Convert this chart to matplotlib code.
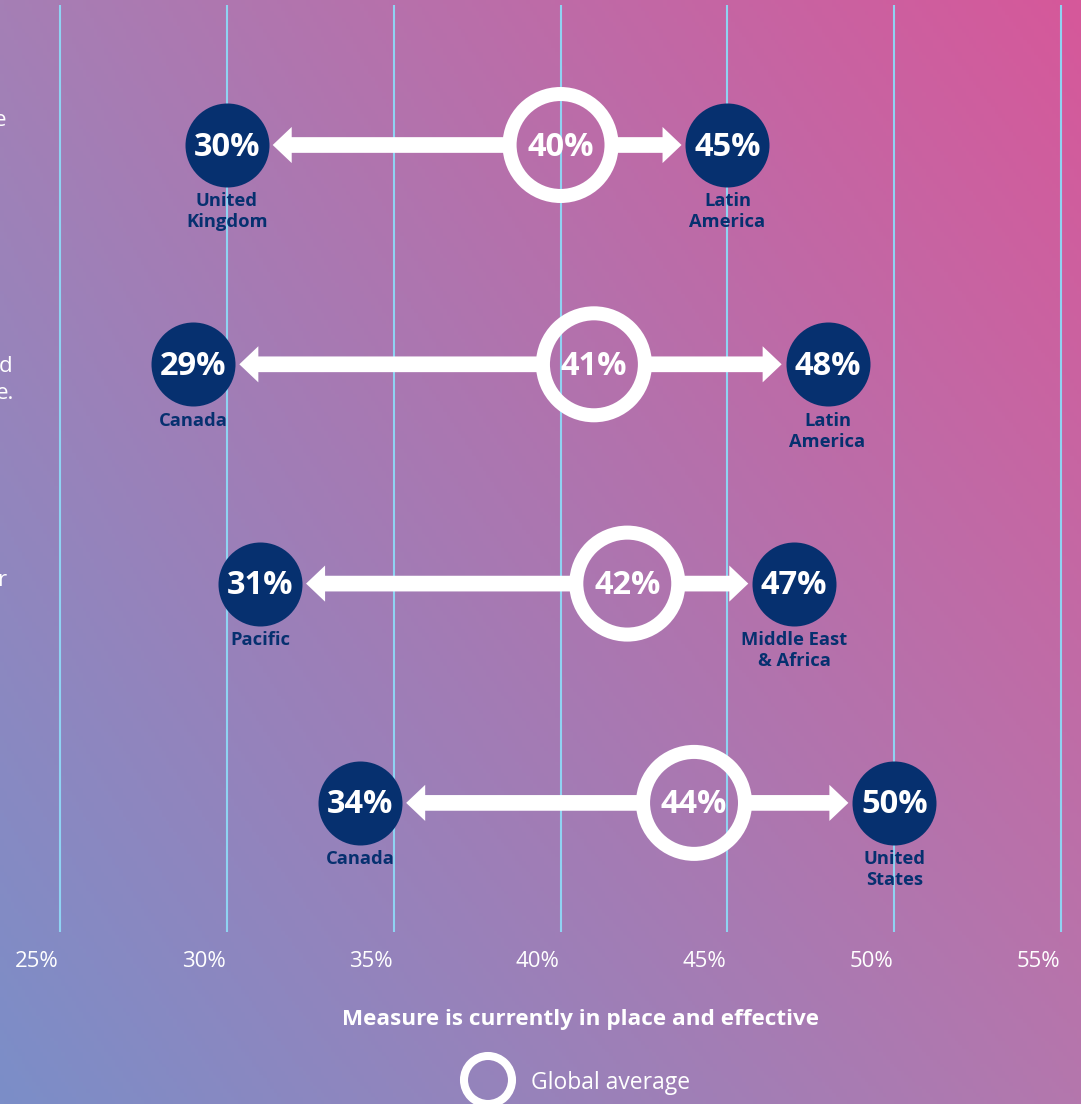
import numpy as np
import matplotlib.pyplot as plt
from matplotlib.patches import FancyArrowPatch
from matplotlib.colors import to_rgb

plt.rcParams['font.family'] = ['Open Sans', 'DejaVu Sans']

# values per row: lowest region, global average, highest region
avg = [40, 41, 42, 44]
low = [30, 29, 31, 34]
high = [45, 48, 47, 50]
low_names = ['United\nKingdom', 'Canada', 'Pacific', 'Canada']
high_names = ['Latin\nAmerica', 'Latin\nAmerica', 'Middle East\n& Africa', 'United\nStates']
ticks = [25, 30, 35, 40, 45, 50, 55]
tick_labels = [f'{t}%' for t in ticks]

navy = '#06306f'
grid_col = '#8fd3f2'

W, H = 1081, 1104
fig = plt.figure(figsize=(W / 100, H / 100), dpi=100)
ax = fig.add_axes([0, 0, 1, 1])
ax.axis('off')

# x scale: 25% sits at 60px, 5 points every ~167px
px_per_pt = 33.37
x0 = 25 - 60 / px_per_pt
ax.set_xlim(x0, x0 + W / px_per_pt)
# y scale: one unit per row, first row at 145px
row_px, row0 = 219.3, 145


def row(ypx):
    return (ypx - row0) / row_px


ax.set_ylim(row(H), row(0))

# diagonal background gradient, bilinear between the four corners
tl, tr = np.array(to_rgb('#a57fb5')), np.array(to_rgb('#d6589a'))
bl, br = np.array(to_rgb('#7b8ec8')), np.array(to_rgb('#b477ad'))
u = np.linspace(0, 1, 300)[None, :, None]
v = np.linspace(0, 1, 300)[:, None, None]
grad = (1 - v) * ((1 - u) * tl + u * tr) + v * ((1 - u) * bl + u * br)
ax.imshow(grad, extent=[0, 1, 0, 1], transform=ax.transAxes, aspect='auto', zorder=0)

ax.vlines(ticks, row(5), row(932), color=grid_col, lw=1.5, zorder=1)

for t, lab in zip(ticks, tick_labels):
    ax.annotate(lab, xy=(t, row(961)), xytext=(-16.5, 0), textcoords='offset points',
                ha='center', va='center', fontsize=16, color='white')

for i in range(len(avg)):
    for end in (low[i], high[i]):
        ax.add_patch(FancyArrowPatch((avg[i], i), (end, i),
                                     arrowstyle='simple,head_length=13.7,head_width=26,tail_width=11.3',
                                     mutation_scale=1, shrinkA=36, shrinkB=33,
                                     color='white', lw=0, zorder=2))

ax.scatter(low + high, list(range(4)) * 2, s=3658, color=navy, lw=0, zorder=3)
ax.scatter(avg, range(4), s=5390, facecolor='none', edgecolor='white', lw=10.1, zorder=3)

for i in range(len(avg)):
    for val in (low[i], avg[i], high[i]):
        ax.annotate(f'{val}%', xy=(val, i), xytext=(0, -1.5), textcoords='offset points',
                    ha='center', va='center', fontsize=23.5,
                    fontweight='bold', color='white', zorder=4)
    for val, name in ((low[i], low_names[i]), (high[i], high_names[i])):
        ax.annotate(name, xy=(val, i), xytext=(0, -34), textcoords='offset points',
                    ha='center', va='top', fontsize=13.2, fontweight='bold',
                    color=navy, linespacing=1.22)

ax.text(580 / W, 1 - 1020 / H, 'Measure is currently in place and effective',
        transform=ax.transAxes, ha='center', va='center', fontsize=16.2,
        fontweight='bold', color='white')

# legend
ax.scatter([488 / W], [1 - 1080 / H], transform=ax.transAxes, s=1195,
           facecolor='none', edgecolor='white', lw=5.8, zorder=3)
ax.text(531 / W, 1 - 1083 / H, 'Global average', transform=ax.transAxes,
        ha='left', va='center', fontsize=16.5, color='white')

# tail ends of the side panel text
for frag, xr, yc in (('e', 6, 121), ('d', 12, 366), ('e.', 14, 394), ('r', 6, 580)):
    ax.text(xr / W, 1 - yc / H, frag, transform=ax.transAxes, ha='right',
            va='center', fontsize=16, color='white')

fig.savefig('out.png', dpi=100)
